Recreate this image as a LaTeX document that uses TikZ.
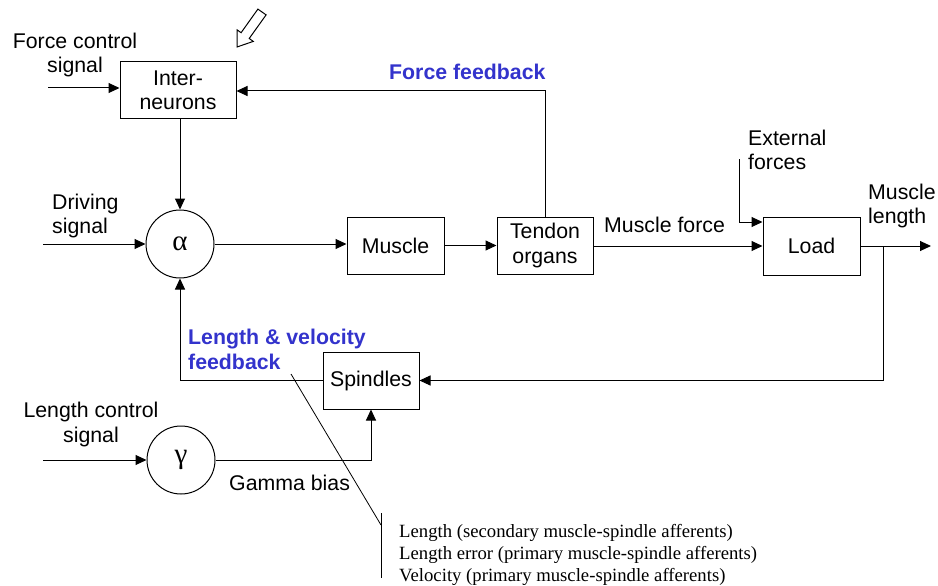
\documentclass[tikz,border=0pt]{standalone}
\usepackage{fontspec}
\setmainfont{Liberation Sans}
\newfontfamily\timesf{Liberation Serif}
\usetikzlibrary{arrows.meta}
\definecolor{fbblue}{RGB}{51,51,204}
\begin{document}
\begin{tikzpicture}[x=1pt,y=-1pt,
  lbl/.style={inner sep=0pt, font=\fontsize{21.3}{24.5}\selectfont},
  fb/.style={inner sep=0pt, font=\fontsize{21.3}{25}\selectfont\bfseries, text=fbblue, align=left},
  box/.style={draw, line width=1pt, rectangle, inner sep=0pt, align=center, font=\fontsize{21.3}{24.5}\selectfont},
  circ/.style={draw, line width=1pt, circle, minimum size=68, inner sep=0pt, font=\fontsize{29}{29}\timesf},
  conn/.style={line width=1pt, -{Triangle[length=11pt,width=10pt]}},
  plain/.style={line width=1pt},
  thin/.style={line width=0.8pt}
 ]
\useasboundingbox (0,0) rectangle (938,586);

% blocks
\node[box, minimum width=116, minimum height=57] (inter) at (178,90.5) {Inter-\\neurons};
\node[circ] (alpha) at (180,244) {α};
\node[box, minimum width=97, minimum height=57] (muscle) at (395.5,245.5) {Muscle};
\node[box, minimum width=96, minimum height=57] (tendon) at (545,245.5) {Tendon\\organs};
\node[box, minimum width=97, minimum height=58] (load) at (811.5,246) {Load};
\node[box, minimum width=96, minimum height=57] (spindles) at (371,380.5) {Spindles};
\node[circ] (gamma) at (181,460) {γ};

% labels
\node[lbl, align=center] (lfc) at (75,55) {Force control\\signal};
\node[lbl, align=left, anchor=west] (ldrv) at (52,216) {Driving\\signal};
\node[lbl, align=center] (llc) at (91,424.5) {Length control\\signal};
\node[lbl, anchor=west] (lgb) at (229,483) {Gamma bias};
\node[lbl, anchor=west] (lmf) at (604,225) {Muscle force};
\node[lbl, align=left, anchor=west] (lext) at (748,150) {External\\forces};
\node[lbl, align=left, anchor=west] (lml) at (868,206) {Muscle\\length};
\node[fb, anchor=west] (lff) at (389,72) {Force feedback};
\node[fb, anchor=west] (llv) at (188,349.5) {Length \& velocity\\feedback};
\node[inner sep=0pt, anchor=west, align=left, font=\fontsize{18.7}{22}\timesf] (notes) at (399,555)
  {Length (secondary muscle-spindle afferents)\\Length error (primary muscle-spindle afferents)\\Velocity (primary muscle-spindle afferents)};

% free ends
\coordinate (fcin) at (48,88);
\coordinate (fbk) at (545,91);
\coordinate (drv) at (43,244);
\coordinate (ext) at (739,159);
\coordinate (extin) at (739,222);
\coordinate (br) at (883,246);
\coordinate (out) at (931,246);
\coordinate (lcin) at (43,460);
\coordinate (lead1) at (291,374);
\coordinate (lead2) at (381,525);
\coordinate (brk1) at (381,513);
\coordinate (brk2) at (381,578);

% connectors
\draw[conn] (fcin) -- (fcin -| inter.west);
\draw[conn] (tendon.north) -- (fbk) -- (fbk -| inter.east);
\draw[conn] (inter.south -| alpha) -- (alpha.north);
\draw[conn] (drv) -- (alpha.west);
\draw[conn] (alpha.east) -- (alpha.east -| muscle.west);
\draw[conn] (muscle.east) -- (tendon.west);
\draw[conn] (tendon.east |- load) -- (load.west);
\draw[conn] (ext) -- (extin) -- (extin -| load.west);
\draw[conn] (load.east) -- (out);
\draw[conn] (br) |- (spindles.east);
\draw[conn] (spindles.west) -| (alpha.south);
\draw[conn] (lcin) -- (gamma.west);
\draw[conn] (gamma.east) -| (spindles.south);

% leader to notes
\draw[thin] (lead1) -- (lead2);
\draw[thin] (brk1) -- (brk2);

% hollow pointer arrow
\draw[line width=1pt, fill=white, line join=miter]
  (266.1,14.9) -- (249.2,38.5) -- (253.3,41.4) -- (237,47) -- (237,29.8) -- (241.1,32.7) -- (257.9,9.1) -- cycle;
\end{tikzpicture}
\end{document}
